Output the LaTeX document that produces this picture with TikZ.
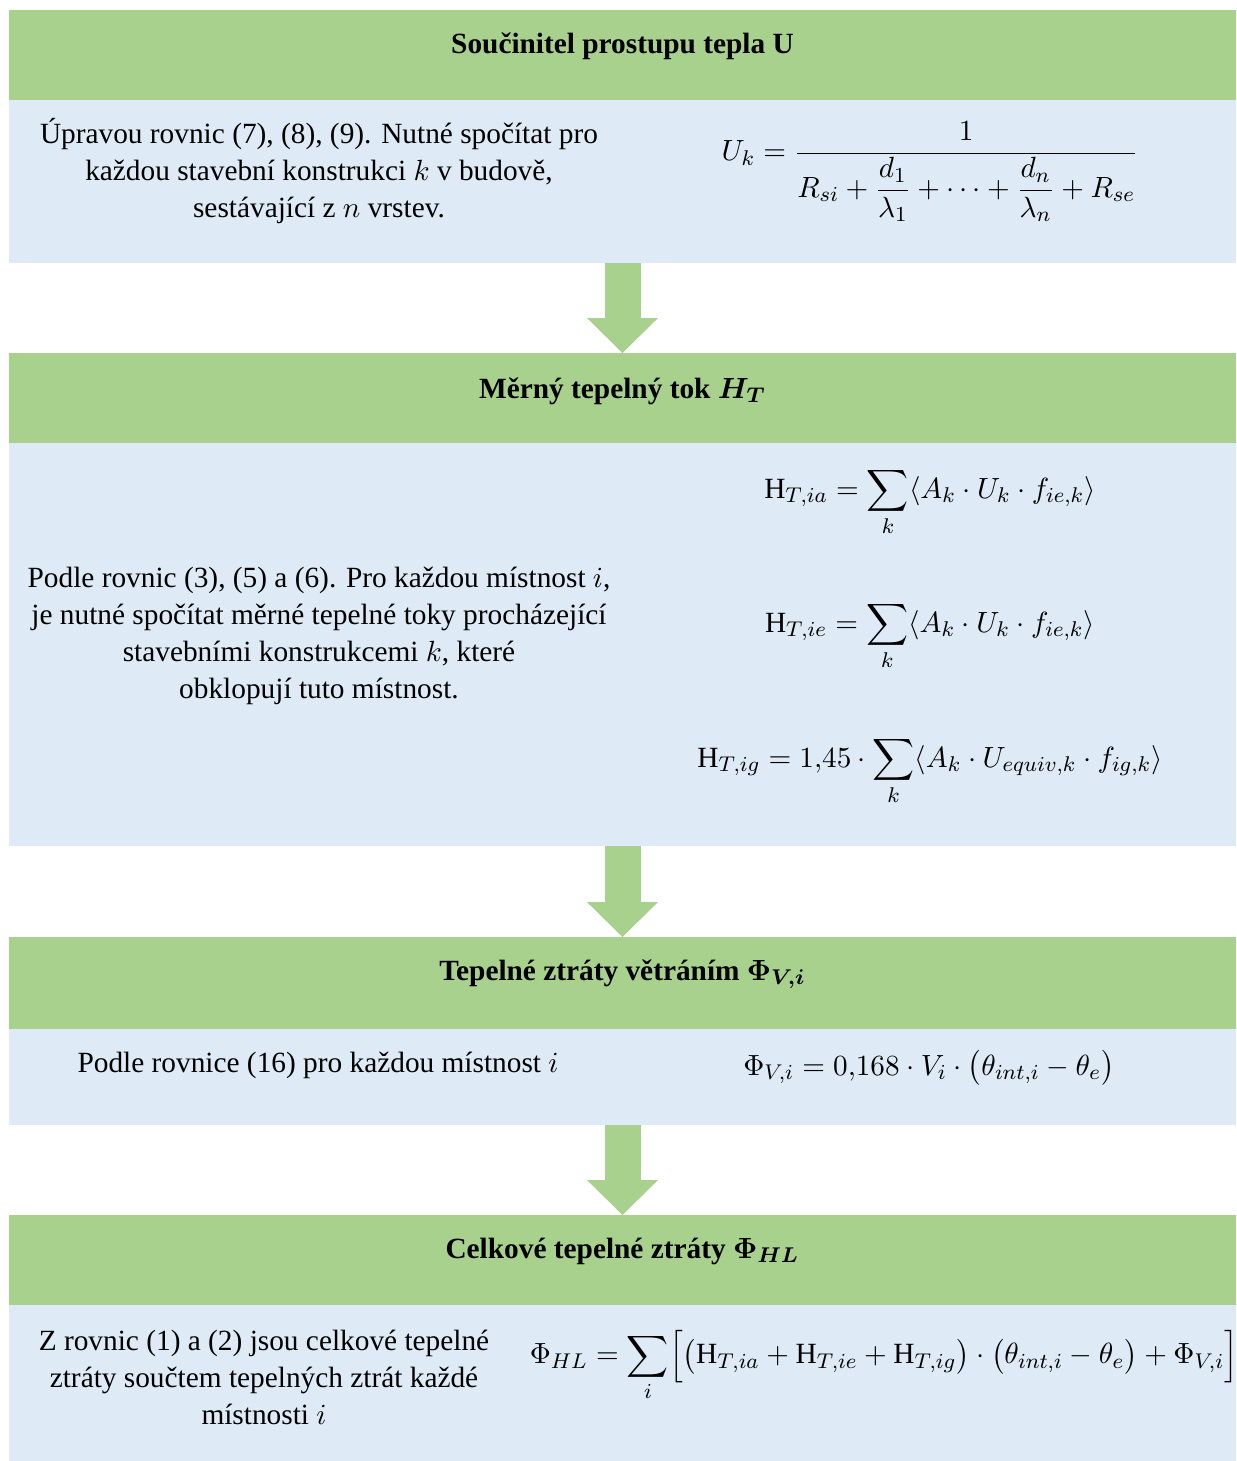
\documentclass[tikz,border=0pt]{standalone}
\usepackage{amsmath}
\usepackage{fontspec}
\setmainfont{Liberation Serif}
\usetikzlibrary{positioning,arrows.meta}
\definecolor{hdrgreen}{HTML}{A9D18E}
\definecolor{bodyblue}{HTML}{DEEBF7}
\tikzset{
  hdr/.style={fill=hdrgreen, minimum width=460.125pt, minimum height=33.75pt, inner sep=0pt, outer sep=0pt},
  bodybox/.style={fill=bodyblue, minimum width=460.125pt, inner sep=0pt, outer sep=0pt},
  hdrtext/.style={font=\fontsize{11}{13}\selectfont\bfseries\boldmath, anchor=base},
  txt/.style={font=\fontsize{11}{13.9}\selectfont, align=center},
  eq/.style={font=\fontsize{11}{13}\selectfont},
  flowarrow/.style={draw=hdrgreen, line width=13.5pt, -{Triangle[width=26.6pt,length=13.1pt,line width=0pt]}}
}
\begin{document}
\begin{tikzpicture}[x=0.375pt,y=-0.375pt]
  \useasboundingbox (0,0) rectangle (1236,1461);
  % Boxes
  \node[hdr, anchor=north] (hU) at (622.5,10) {};
  \node[bodybox, below=0pt of hU, minimum height=61.125pt] (bU) {};
  \node[hdr, below=33.75pt of bU] (hH) {};
  \node[bodybox, below=0pt of hH, minimum height=151.125pt] (bH) {};
  \node[hdr, below=34.125pt of bH, minimum height=34.5pt] (hV) {};
  \node[bodybox, below=0pt of hV, minimum height=36pt] (bV) {};
  \node[hdr, below=33.75pt of bV] (hHL) {};
  \node[bodybox, below=0pt of hHL, minimum height=58.5pt] (bHL) {};
  % Arrows
  \draw[flowarrow] (bU) -- (hH);
  \draw[flowarrow] (bH) -- (hV);
  \draw[flowarrow] (bV) -- (hHL);
  % Headings
  \node[hdrtext] (tU) at (622.5,53) {Součinitel prostupu tepla U};
  \node[hdrtext] (tH) at (622.5,398) {Měrný tepelný tok $H_T$};
  \node[hdrtext] (tV) at (622.5,980) {Tepelné ztráty větráním $\Phi_{V,i}$};
  \node[hdrtext] (tHL) at (622.5,1258) {Celkové tepelné ztráty $\Phi_{HL}$};
  % Texts
  \node[txt] (xU) at (319,171) {Úpravou rovnic (7), (8), (9). Nutné spočítat pro\\každou stavební konstrukci $k$ v budově,\\sestávající z $n$ vrstev.};
  \node[txt] (xH) at (319,636) {Podle rovnic (3), (5) a (6). Pro každou místnost $i$,\\je nutné spočítat měrné tepelné toky procházející\\stavebními konstrukcemi $k$, které\\obklopují tuto místnost.};
  \node[txt] (xV) at (318,1065) {Podle rovnice (16) pro každou místnost $i$};
  \node[txt] (xHL) at (264,1377) {Z rovnic (1) a (2) jsou celkové tepelné\\ztráty součtem tepelných ztrát každé\\místnosti $i$};
  % Equations
  \node[eq] (eU) at (930,172) {$\displaystyle U_k = \frac{1}{R_{si} + \dfrac{d_1}{\lambda_1} + \cdots + \dfrac{d_n}{\lambda_n} + R_{se}}$};
  \node[eq] (eHa) at (930,502) {$\displaystyle \mathrm{H}_{T,ia} = \sum_k \langle A_k \cdot U_k \cdot f_{ie,k} \rangle$};
  \node[eq] (eHe) at (930,636) {$\displaystyle \mathrm{H}_{T,ie} = \sum_k \langle A_k \cdot U_k \cdot f_{ie,k} \rangle$};
  \node[eq] (eHg) at (930,771) {$\displaystyle \mathrm{H}_{T,ig} = 1{,}45 \cdot \sum_k \langle A_k \cdot U_{equiv,k} \cdot f_{ig,k} \rangle$};
  \node[eq] (eV) at (929,1068) {$\Phi_{V,i} = 0{,}168 \cdot V_i \cdot \bigl(\theta_{int,i} - \theta_e\bigr)$};
  \node[eq] (eHL) at (884,1366) {$\displaystyle \Phi_{HL} = \sum_i \Bigl[\bigl(\mathrm{H}_{T,ia} + \mathrm{H}_{T,ie} + \mathrm{H}_{T,ig}\bigr) \cdot \bigl(\theta_{int,i} - \theta_e\bigr) + \Phi_{V,i}\Bigr]$};
\end{tikzpicture}
\end{document}
